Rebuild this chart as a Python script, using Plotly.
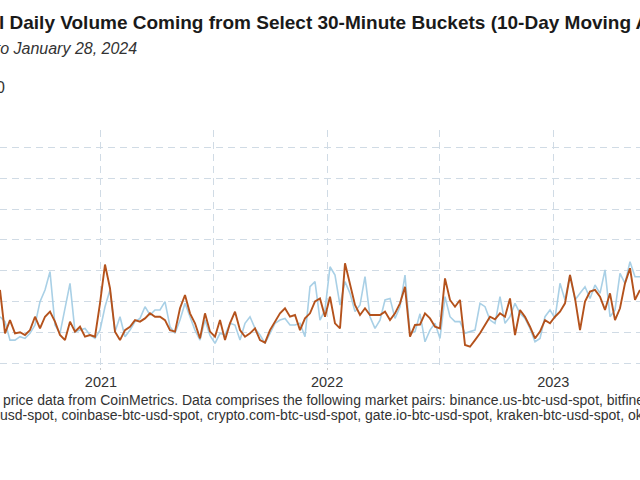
import pandas as pd
import plotly.graph_objects as go

# ---- data ----
start_date = "2020-07-22"
end_date = "2023-05-21"
n_points = 129

share_orange = [
    4.75, 1.93, 2.79, 1.93, 2.00, 1.82, 2.14, 3.01, 2.25, 3.01, 3.34, 2.69, 1.82, 1.49, 2.69, 2.04,
    2.36, 1.71, 1.82, 1.71, 3.88, 6.40, 4.86, 2.04, 1.49, 2.14, 2.36, 2.79, 2.69, 2.90, 3.23, 3.01,
    3.01, 2.79, 2.14, 2.04, 3.56, 4.42, 3.23, 2.58, 1.60, 3.23, 2.04, 1.71, 2.79, 1.49, 2.58, 3.34,
    2.14, 1.71, 1.93, 2.25, 1.49, 1.32, 2.14, 2.69, 3.23, 3.56, 3.01, 3.12, 2.14, 2.90, 3.23, 4.00,
    4.20, 3.01, 4.31, 2.58, 2.25, 6.48, 5.18, 3.77, 3.12, 3.56, 3.12, 3.12, 3.12, 3.34, 2.79, 3.23,
    3.88, 4.96, 1.71, 2.47, 2.50, 3.23, 2.90, 2.36, 2.25, 5.50, 4.10, 3.66, 4.10, 1.17, 1.06, 1.49,
    1.93, 2.47, 3.01, 2.84, 3.23, 3.01, 4.20, 1.82, 3.45, 3.00, 2.36, 1.60, 2.04, 2.79, 2.58, 3.01,
    3.34, 3.88, 5.72, 4.20, 2.14, 3.99, 4.64, 4.75, 4.31, 3.45, 4.53, 2.79, 3.56, 5.18, 6.16, 4.10,
    4.75,
]

share_blue = [
    3.01, 2.69, 1.49, 1.49, 1.71, 1.60, 1.93, 2.47, 3.99, 4.75, 5.94, 2.47, 1.93, 3.45, 5.18, 2.04,
    2.14, 2.25, 1.82, 1.60, 2.14, 3.66, 4.75, 2.04, 3.01, 1.71, 2.14, 2.69, 2.90, 3.66, 3.12, 3.45,
    3.45, 3.99, 2.36, 1.93, 2.79, 3.88, 3.01, 2.14, 1.49, 2.79, 1.80, 1.28, 1.93, 1.82, 2.58, 2.47,
    1.49, 2.58, 3.01, 2.25, 1.82, 1.28, 1.93, 2.58, 2.79, 2.90, 2.47, 2.47, 2.58, 1.71, 4.96, 5.29,
    2.79, 3.45, 6.26, 5.72, 3.77, 5.29, 4.53, 3.34, 3.77, 5.61, 3.01, 2.25, 2.79, 4.10, 4.20, 2.90,
    3.66, 5.72, 1.93, 2.04, 3.20, 1.38, 2.14, 2.58, 1.60, 4.31, 3.01, 2.69, 2.69, 1.93, 2.04, 2.14,
    3.88, 3.66, 2.79, 2.58, 4.31, 2.58, 3.01, 3.88, 3.23, 2.90, 2.25, 1.38, 1.60, 3.01, 3.45, 2.90,
    5.18, 4.10, 5.72, 4.10, 4.53, 4.96, 4.20, 5.07, 4.53, 6.05, 3.01, 3.45, 5.83, 5.18, 6.59, 5.61,
    5.61,
]

title_text = "Share of Total Daily Volume Coming from Select 30-Minute Buckets (10-Day Moving Average)"
subtitle_text = "July 1, 2020 to January 28, 2024"
caption_line1 = ("price data from CoinMetrics. Data comprises the following market pairs: "
                 "binance.us-btc-usd-spot, bitfinex-btc-usd-spot, bitstamp-btc-")
caption_line2 = ("usd-spot, coinbase-btc-usd-spot, crypto.com-btc-usd-spot, gate.io-btc-usd-spot, "
                 "kraken-btc-usd-spot, okx-btc-usd-spot")

dates = pd.date_range(start_date, end_date, periods=n_points)

# ---- figure ----
W, H = 640, 480
plot_top, plot_bottom = 130, 367
FONT = "Liberation Sans, Arial, sans-serif"
GRID = "#d0dbe5"


def px_x(p):
    return p / W


def px_y(p):
    return (plot_bottom - p) / (plot_bottom - plot_top)


fig = go.Figure()
fig.add_trace(go.Scatter(x=dates, y=share_blue, mode="lines",
                         line=dict(color="#a9d0e6", width=1.6), name="blue", showlegend=False))
fig.add_trace(go.Scatter(x=dates, y=share_orange, mode="lines",
                         line=dict(color="#b4521c", width=1.9), name="orange", showlegend=False))

fig.update_layout(
    width=W, height=H, autosize=False,
    margin=dict(l=0, r=0, t=plot_top, b=H - plot_bottom, autoexpand=False),
    plot_bgcolor="white", paper_bgcolor="white",
    font=dict(family=FONT, color="#333333"),
    showlegend=False,
    xaxis=dict(
        type="date", range=[start_date, end_date], automargin=False,
        tick0="2021-01-01", dtick="M12", tickformat="%Y",
        showgrid=True, gridcolor=GRID, gridwidth=1.3, griddash="7px,5px",
        ticks="outside", ticklen=2, tickcolor="#c8c8c8", tickwidth=1,
        tickfont=dict(size=14.5, color="#333333"),
        minor=dict(dtick="M6", tick0="2021-01-01", showgrid=True, gridcolor=GRID,
                   gridwidth=1.3, griddash="7px,5px"),
        showline=False, zeroline=False,
    ),
    yaxis=dict(
        range=[-0.26, 15.15], dtick=2, tick0=0, automargin=False,
        showgrid=True, gridcolor=GRID, gridwidth=1.3, griddash="7px,5px",
        showticklabels=False, zeroline=False, showline=False,
    ),
)

annotations = [
    dict(text=f"<b>{title_text}</b>", x=px_x(-123), y=px_y(23), xanchor="left", yanchor="middle",
         font=dict(size=19, color="#1a1a1a")),
    dict(text=f"<i>{subtitle_text}</i>", x=px_x(139), y=px_y(48), xanchor="right", yanchor="middle",
         font=dict(size=16, color="#333333")),
    dict(text="0", x=px_x(7), y=px_y(87), xanchor="right", yanchor="middle",
         font=dict(size=16, color="#333333")),
    dict(text=caption_line1, x=px_x(1), y=px_y(400), xanchor="left", yanchor="middle",
         font=dict(size=14, color="#333333")),
    dict(text=caption_line2, x=px_x(-2), y=px_y(415), xanchor="left", yanchor="middle",
         font=dict(size=14, color="#333333")),
]
for a in annotations:
    a.update(xref="paper", yref="paper", showarrow=False)
fig.update_layout(annotations=annotations)

fig.write_html(
    "out.html",
    config={"displayModeBar": False, "responsive": False},
    post_script="document.body.style.margin='0';",
)
